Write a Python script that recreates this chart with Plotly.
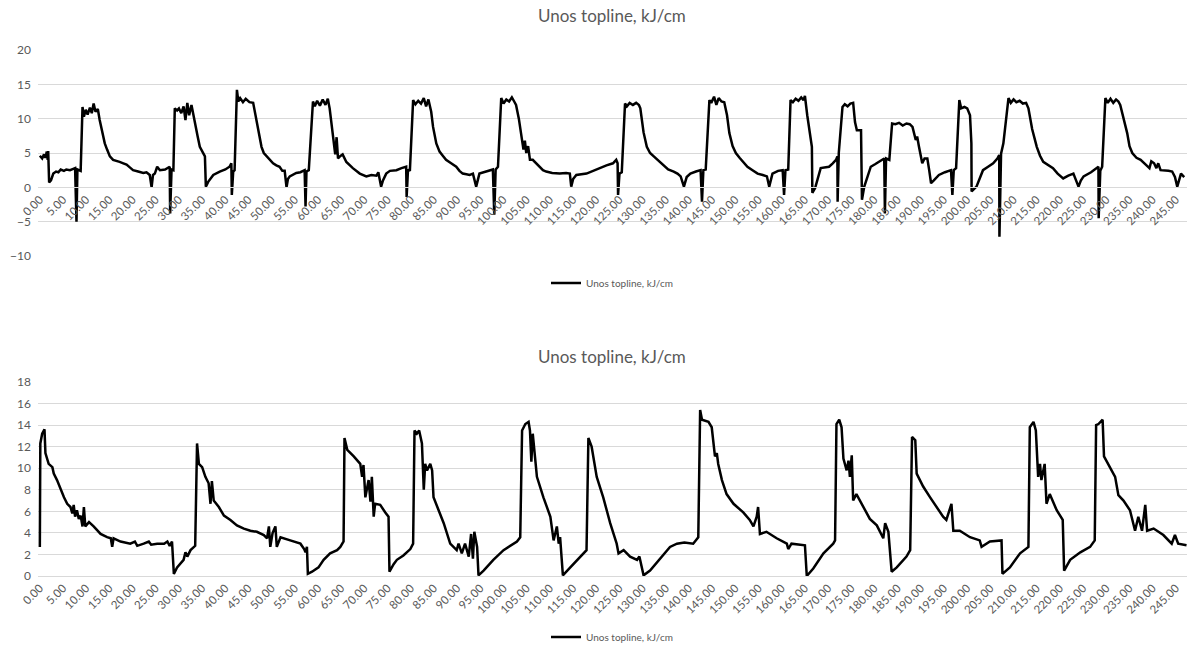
import plotly.graph_objects as go

# top chart: time [min] and heat input [kJ/cm]
t1 = [0.0, 0.5, 0.9, 1.2, 1.5, 1.7, 1.8, 2.0, 2.4, 2.9, 3.5, 4.0, 4.5, 5.2, 5.7, 6.5, 7.2, 7.6, 7.9, 8.1,
      8.8, 9.2, 9.5, 9.9, 10.3, 10.8, 11.2, 11.6, 12.0, 12.5, 12.9, 13.4, 14.0, 14.5, 15.1, 15.8, 16.5, 17.2, 18.0, 18.7,
      19.4, 20.1, 21.2, 22.3, 23.0, 23.7, 24.1, 24.4, 24.8, 25.3, 25.9, 27.0, 28.0, 28.1, 28.4, 28.8, 29.1, 29.6, 30.0, 30.5,
      31.0, 31.4, 31.8, 32.2, 32.7, 33.4, 34.0, 34.5, 35.0, 35.6, 35.8, 36.3, 37.4, 38.8, 40.0, 40.9, 41.3, 41.4, 41.7, 42.0,
      42.5, 42.8, 43.2, 43.8, 44.4, 45.2, 46.0, 46.7, 47.2, 47.8, 48.3, 48.9, 49.6, 50.3, 51.0, 51.7, 52.3, 52.8, 53.2, 53.5,
      53.9, 55.3, 56.2, 57.1, 57.3, 57.5, 58.0, 58.9, 59.3, 59.8, 60.4, 61.0, 61.6, 62.1, 62.5, 63.2, 63.7, 64.0, 64.3, 64.7,
      65.3, 66.1, 67.5, 69.0, 70.4, 71.5, 72.6, 73.0, 73.6, 74.0, 74.7, 75.5, 76.9, 78.0, 79.0, 79.1, 79.4, 79.8, 80.5, 81.0,
      81.6, 82.2, 82.8, 83.3, 83.8, 84.4, 84.8, 85.5, 86.2, 86.9, 87.6, 88.7, 89.8, 90.5, 91.2, 92.0, 92.7, 93.4, 94.1, 94.8,
      96.2, 97.7, 98.0, 98.3, 98.8, 99.5, 100.0, 100.6, 101.2, 101.8, 102.3, 102.7, 103.3, 103.8, 104.3, 104.6, 104.9, 105.3, 105.7, 106.3,
      107.0, 107.8, 108.5, 109.2, 110.5, 112.1, 113.5, 114.3, 114.6, 115.0, 115.7, 117.9, 119.3, 120.7, 122.2, 123.6, 124.3, 124.6, 124.7, 125.0,
      125.5, 126.2, 126.6, 127.2, 127.9, 128.6, 129.2, 129.5, 130.2, 130.9, 131.6, 132.4, 133.5, 134.5, 135.5, 136.7, 137.5, 138.2, 138.9, 139.5,
      140.3, 141.5, 142.5, 142.8, 143.1, 143.6, 144.4, 144.8, 145.4, 145.9, 146.4, 147.0, 147.6, 148.2, 148.7, 149.4, 150.1, 150.9, 151.6, 152.6,
      153.7, 154.8, 155.9, 156.8, 157.3, 157.7, 158.0, 159.2, 160.2, 160.5, 160.8, 161.4, 161.9, 162.4, 163.0, 163.6, 164.2, 164.7, 165.0, 165.5,
      165.9, 166.5, 166.6, 167.2, 168.4, 169.3, 170.2, 171.0, 171.7, 172.0, 172.05, 172.3, 173.1, 173.6, 174.2, 174.8, 175.4, 175.8, 176.2, 177.1,
      177.3, 177.8, 178.5, 179.2, 180.2, 181.0, 181.6, 182.1, 182.25, 182.5, 183.2, 183.8, 184.5, 185.3, 186.1, 186.9, 187.6, 188.2, 188.9, 189.2,
      189.6, 190.0, 190.3, 190.8, 191.4, 191.8, 192.2, 192.8, 193.9, 195.2, 196.5, 196.8, 197.1, 197.6, 198.3, 198.7, 199.4, 200.0, 200.6, 200.9,
      200.95, 202.0, 202.7, 203.4, 204.5, 205.6, 206.5, 206.9, 206.95, 207.3, 207.8, 208.9, 209.4, 210.0, 210.6, 211.3, 212.0, 212.7, 213.2, 214.0,
      215.0, 215.7, 216.4, 217.4, 218.5, 219.5, 220.7, 221.8, 222.9, 224.0, 224.5, 225.1, 226.7, 228.3, 228.35, 228.7, 229.1, 229.8, 230.3, 230.9,
      231.5, 232.1, 232.6, 233.0, 233.8, 234.5, 235.0, 235.6, 236.5, 237.4, 238.5, 239.3, 239.7, 240.3, 240.8, 241.2, 241.7, 242.6, 243.4, 244.2,
      244.8, 245.3, 245.7, 246.1, 246.8]
q1 = [4.6, 4.2, 4.8, 4.3, 5.2, 4.0, 5.3, 0.7, 1.0, 2.0, 2.3, 2.2, 2.6, 2.4, 2.6, 2.5, 2.7, 2.8, -5.0, 2.6,
      2.4, 11.7, 10.3, 11.3, 10.6, 11.6, 10.8, 12.2, 11.0, 11.4, 9.8, 8.0, 6.4, 5.5, 4.5, 4.0, 3.9, 3.7, 3.5, 3.3,
      2.9, 2.5, 2.3, 2.1, 2.2, 1.8, 0.0, 1.8, 2.0, 3.0, 2.5, 2.6, 3.0, -3.8, 2.6, 2.5, 11.5, 11.2, 11.5, 10.8,
      11.8, 9.8, 12.3, 10.5, 12.0, 9.3, 7.5, 5.9, 5.2, 4.5, 0.1, 0.8, 1.8, 2.3, 2.6, 3.0, 3.5, -1.1, 2.3, 2.5,
      14.2, 12.5, 13.0, 12.4, 12.9, 12.4, 12.3, 9.8, 8.0, 5.9, 5.0, 4.5, 4.0, 3.5, 3.2, 3.0, 2.4, 2.4, 0.0, 1.2,
      1.6, 2.1, 2.2, 2.5, -2.8, 2.3, 2.5, 12.5, 11.8, 12.6, 11.9, 12.8, 12.0, 12.9, 11.5, 7.9, 4.8, 7.3, 4.2, 4.5,
      4.8, 3.7, 2.8, 2.0, 1.6, 1.8, 1.7, 2.2, 0.1, 1.0, 2.0, 2.4, 2.5, 2.8, 3.0, -1.4, 2.6, 2.4, 12.7, 12.1,
      12.6, 12.2, 13.0, 11.8, 12.8, 11.0, 8.8, 6.4, 5.2, 4.6, 4.0, 3.5, 3.0, 2.4, 2.0, 1.9, 1.8, 2.0, 0.1, 2.0,
      2.3, 2.6, -4.0, 2.6, 3.0, 13.0, 12.2, 12.8, 12.5, 13.1, 12.5, 12.0, 10.0, 7.9, 5.5, 6.8, 5.0, 6.0, 4.0, 4.0,
      3.5, 3.0, 2.5, 2.3, 2.1, 2.0, 2.1, 2.0, 0.1, 1.2, 1.8, 2.0, 2.4, 2.8, 3.2, 3.5, 4.0, 3.5, -1.1, 2.0,
      2.2, 12.2, 11.8, 12.3, 12.0, 12.3, 12.0, 11.5, 8.0, 5.9, 5.0, 4.5, 3.8, 3.3, 2.6, 2.3, 2.0, 1.6, 0.1, 1.5,
      2.0, 2.3, 2.5, -2.1, 2.5, 2.6, 12.7, 12.3, 13.2, 12.0, 13.0, 12.5, 12.4, 10.5, 7.9, 6.0, 5.0, 4.3, 3.7, 3.0,
      2.5, 2.0, 1.8, 1.6, 0.1, 1.5, 2.0, 2.4, 2.5, -1.1, 2.5, 2.6, 12.7, 12.4, 12.9, 12.6, 13.1, 12.7, 13.3, 10.5,
      8.8, 5.9, -0.8, -0.1, 2.8, 2.9, 3.0, 3.5, 4.0, 4.5, -2.1, 5.0, 11.7, 12.1, 11.8, 12.2, 12.3, 9.5, 8.3, 8.3,
      -1.8, 0.1, 1.5, 3.0, 3.4, 3.7, 3.9, 4.2, -3.8, 4.2, 4.0, 9.3, 9.2, 9.4, 9.0, 9.3, 9.2, 8.8, 6.9, 7.4,
      5.9, 4.2, 3.5, 4.2, 4.2, 2.5, 0.6, 1.0, 1.8, 2.2, 2.5, -1.1, 2.5, 2.8, 12.7, 11.5, 11.7, 11.5, 10.5, 6.4,
      -0.6, 0.1, 1.3, 2.5, 3.0, 3.5, 4.2, 4.7, -7.2, 4.9, 6.4, 13.0, 12.3, 12.8, 12.4, 12.6, 12.2, 12.3, 11.5, 8.5,
      5.9, 4.6, 3.7, 3.3, 2.8, 2.0, 1.3, 1.7, 2.0, 0.1, 1.0, 1.6, 2.2, 3.0, -4.5, 2.4, 3.0, 13.0, 12.3, 12.9,
      12.3, 12.8, 12.5, 12.0, 10.0, 7.9, 6.0, 5.0, 4.3, 4.0, 3.3, 2.8, 3.8, 3.5, 2.8, 3.5, 2.5, 2.5, 2.4, 2.3,
      1.5, 0.1, 1.2, 2.0, 1.5]

# bottom chart
t2 = [0.0, 0.1, 0.5, 1.0, 1.2, 1.9, 2.7, 3.0, 3.7, 4.5, 5.2, 5.9, 6.6, 7.0, 7.3, 7.6, 8.0, 8.4, 8.8, 9.2,
      9.5, 9.8, 10.6, 11.6, 13.1, 14.5, 15.3, 15.6, 15.9, 17.4, 19.5, 20.5, 21.0, 22.4, 23.5, 24.0, 25.3, 26.8, 27.5, 28.0,
      28.5, 28.9, 29.6, 31.0, 31.4, 31.8, 32.5, 33.5, 33.9, 34.3, 35.0, 35.7, 36.4, 36.8, 37.1, 37.5, 38.6, 39.7, 41.1, 42.5,
      44.0, 45.4, 46.8, 48.3, 49.0, 49.4, 49.7, 50.2, 50.8, 51.1, 51.9, 54.0, 56.2, 57.0, 57.3, 57.6, 57.8, 58.7, 60.1, 61.2,
      62.6, 64.1, 64.8, 65.5, 65.7, 66.3, 67.7, 69.1, 69.5, 69.8, 70.2, 70.9, 71.3, 71.6, 72.0, 72.3, 73.4, 74.5, 75.2, 75.4,
      76.3, 77.0, 78.4, 79.9, 80.5, 80.8, 81.3, 81.8, 82.4, 82.8, 83.1, 83.5, 84.2, 84.6, 84.9, 86.0, 87.1, 88.5, 89.9, 90.3,
      91.0, 91.7, 92.5, 93.0, 93.4, 93.7, 94.3, 94.6, 95.7, 97.8, 100.0, 102.9, 103.6, 104.0, 104.7, 105.4, 105.7, 106.0, 106.3, 107.2,
      108.6, 110.1, 110.8, 111.5, 111.9, 112.2, 112.8, 114.4, 116.5, 117.9, 118.3, 119.0, 120.1, 121.5, 123.0, 124.4, 124.8, 125.9, 127.3, 128.8,
      129.3, 130.2, 131.6, 133.8, 135.9, 137.4, 139.0, 140.9, 142.0, 142.4, 142.8, 144.2, 144.9, 145.6, 146.0, 146.3, 147.1, 148.1, 149.6, 151.7,
      153.1, 153.9, 154.6, 154.9, 155.3, 156.7, 158.9, 161.1, 161.4, 162.1, 165.0, 165.4, 166.8, 169.0, 171.1, 171.5, 171.8, 172.4, 172.9, 173.3,
      174.0, 174.4, 174.7, 175.1, 175.4, 176.1, 177.6, 179.0, 180.5, 181.9, 182.3, 183.0, 183.7, 184.8, 186.9, 187.7, 188.1, 188.8, 189.1, 190.5,
      192.0, 193.4, 194.8, 195.5, 196.6, 197.0, 198.4, 200.6, 202.7, 203.1, 204.9, 207.4, 207.6, 209.2, 211.4, 213.2, 213.5, 214.3, 214.8, 215.3,
      215.7, 216.0, 216.7, 217.1, 217.8, 219.3, 220.6, 220.9, 222.2, 224.4, 226.5, 227.5, 227.8, 228.3, 229.2, 229.5, 230.8, 231.9, 232.6, 233.7,
      235.1, 236.2, 236.9, 237.7, 238.4, 238.8, 240.2, 242.3, 244.1, 244.8, 245.5, 247.3]
q2 = [2.7, 12.3, 13.2, 13.6, 11.4, 10.4, 10.1, 9.5, 8.9, 8.0, 7.3, 6.7, 6.4, 5.8, 6.6, 5.5, 6.1, 5.3, 5.6, 4.6,
      6.4, 4.6, 5.0, 4.6, 3.9, 3.6, 3.5, 2.7, 3.5, 3.2, 3.0, 3.2, 2.8, 3.0, 3.2, 2.9, 3.0, 3.0, 3.2, 2.8,
      3.2, 0.2, 0.8, 1.5, 2.2, 1.8, 2.4, 2.8, 12.3, 10.4, 10.1, 9.2, 8.6, 6.7, 8.8, 7.0, 6.4, 5.6, 5.2, 4.7,
      4.4, 4.2, 4.1, 3.8, 3.5, 4.6, 2.7, 4.0, 4.6, 2.7, 3.6, 3.3, 3.0, 2.5, 2.2, 2.7, 0.2, 0.4, 0.8, 1.5,
      2.1, 2.4, 2.7, 3.2, 12.8, 11.7, 11.1, 10.4, 9.2, 10.3, 7.3, 8.9, 6.9, 9.2, 5.5, 6.7, 6.6, 5.9, 5.5, 0.4,
      1.1, 1.5, 1.9, 2.5, 3.0, 13.5, 13.2, 13.5, 12.3, 8.0, 10.4, 9.8, 10.4, 9.8, 7.3, 6.1, 4.9, 3.0, 2.4, 3.0,
      2.1, 3.0, 1.8, 3.9, 1.6, 4.1, 2.7, 0.06, 0.5, 1.5, 2.4, 3.2, 3.6, 13.5, 14.1, 14.3, 13.5, 10.6, 13.2, 9.2,
      7.3, 5.5, 3.3, 4.6, 3.0, 3.6, 0.06, 0.8, 1.8, 2.4, 12.8, 12.0, 9.2, 7.3, 4.9, 3.0, 2.1, 2.4, 1.8, 1.5,
      1.8, 0.06, 0.5, 1.6, 2.7, 3.0, 3.1, 3.0, 3.6, 15.4, 14.5, 14.3, 13.8, 11.1, 11.4, 10.4, 8.9, 7.6, 6.7, 5.9,
      5.2, 4.6, 5.5, 6.4, 3.9, 4.1, 3.5, 3.0, 2.5, 3.0, 2.85, 0.0, 0.7, 2.1, 3.0, 3.3, 14.1, 14.5, 13.8, 10.9,
      9.8, 10.7, 9.2, 11.2, 7.0, 7.6, 6.4, 5.3, 4.7, 3.5, 4.9, 4.1, 0.4, 0.8, 1.8, 2.4, 12.9, 12.6, 9.5, 8.3,
      7.3, 6.4, 5.5, 5.2, 6.7, 4.2, 4.2, 3.6, 3.3, 2.7, 3.2, 3.3, 0.2, 0.8, 2.1, 2.7, 13.8, 14.3, 13.5, 9.2,
      10.4, 8.9, 10.4, 6.7, 7.6, 6.1, 5.2, 0.5, 1.5, 2.2, 2.7, 3.3, 14.0, 14.1, 14.5, 11.1, 10.1, 9.2, 7.5, 7.0,
      6.1, 4.2, 5.5, 4.2, 6.6, 4.2, 4.4, 3.8, 3.0, 3.8, 3.0, 2.85]

series_name = "Unos topline, kJ/cm"
title_text = "Unos topline, kJ/cm"

W, H = 1187, 645
grey = "#595959"
grid = "#d9d9d9"
font = "Lato, Calibri, Arial, sans-serif"


def px_x(px):
    return px / W


def px_y(py):
    return 1 - py / H


# paper positions
top_dom = [px_y(256), px_y(50)]
bot_dom = [px_y(576), px_y(382)]
x_dom = [px_x(38), 1.0]
y1_range = [-10, 20]
zero_pos = top_dom[0] + (0 - y1_range[0]) / (y1_range[1] - y1_range[0]) * (top_dom[1] - top_dom[0])
x_range = [-0.4, 247.4]

fig = go.Figure()
fig.add_trace(go.Scatter(x=t1, y=q1, mode="lines", name=series_name, showlegend=True,
                         line=dict(color="black", width=2.5), xaxis="x", yaxis="y", legend="legend"))
fig.add_trace(go.Scatter(x=t2, y=q2, mode="lines", name=series_name, showlegend=True,
                         line=dict(color="black", width=2.5), xaxis="x2", yaxis="y2", legend="legend2"))

xcommon = dict(range=x_range, tickmode="linear", tick0=0, dtick=5, tickformat=".2f",
               tickangle=-45, showgrid=False, zeroline=False, ticks="", automargin=False,
               tickfont=dict(size=11.5, color=grey, family=font), domain=x_dom)
ycommon = dict(showgrid=True, gridcolor=grid, gridwidth=1, zeroline=False, ticks="",
               automargin=False, ticklabelstandoff=6,
               tickfont=dict(size=12, color=grey, family=font), showline=False)

fig.update_layout(
    width=W, height=H,
    showlegend=True,
    margin=dict(l=0, r=0, t=0, b=0, autoexpand=False),
    paper_bgcolor="white", plot_bgcolor="white",
    font=dict(family=font, color=grey),
    xaxis=dict(**xcommon, anchor="free", position=zero_pos, showline=True, linecolor=grid, linewidth=1),
    yaxis=dict(**ycommon, domain=top_dom, range=y1_range, dtick=5),
    xaxis2=dict(**xcommon, anchor="y2", showline=True, linecolor=grid, linewidth=1),
    yaxis2=dict(**ycommon, domain=bot_dom, range=[0, 18], dtick=2),
    legend=dict(orientation="h", x=px_x(612), xanchor="center", y=px_y(283), yanchor="middle",
                font=dict(size=10, color=grey, family=font), bgcolor="rgba(0,0,0,0)"),
    legend2=dict(orientation="h", x=px_x(612), xanchor="center", y=px_y(637), yanchor="middle",
                 font=dict(size=10, color=grey, family=font), bgcolor="rgba(0,0,0,0)"),
    annotations=[
        dict(text=title_text, x=px_x(612), y=px_y(15), xref="paper", yref="paper", yanchor="middle",
             showarrow=False, font=dict(size=17, color=grey, family=font)),
        dict(text=title_text, x=px_x(612), y=px_y(356), xref="paper", yref="paper", yanchor="middle",
             showarrow=False, font=dict(size=17, color=grey, family=font)),
    ],
)

# drop the default page margin so the figure fills the window
fig.write_html("out.html", config={"displayModeBar": False},
               post_script="document.body.style.margin = '0';")
